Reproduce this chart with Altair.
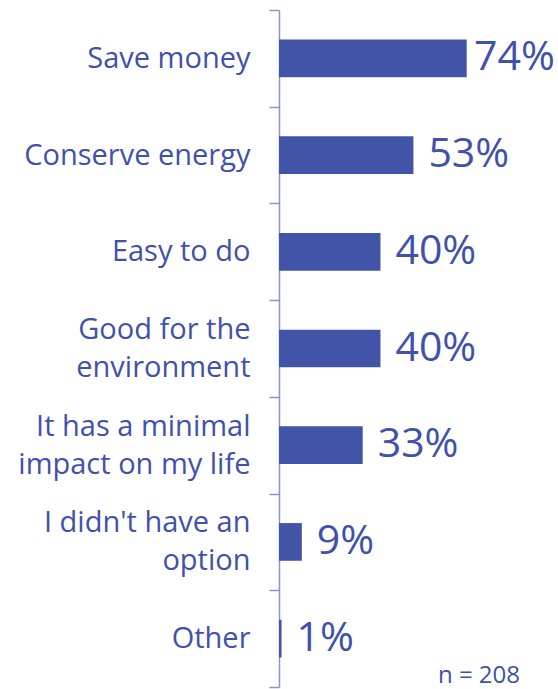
import altair as alt
import pandas as pd

categories = ["Save money", "Conserve energy", "Easy to do", "Good for the|environment",
              "It has a minimal|impact on my life", "I didn't have an|option", "Other"]
values = [74, 53, 40, 40, 33, 9, 1]
value_labels = ["74%", "53%", "40%", "40%", "33%", "9%", "1%"]
note = "n = 208"

df = pd.DataFrame({"cat": categories, "val": values, "lbl": value_labels})

BLUE = "#4154A8"
TEXT = "#3F51AA"
AXIS = "#8C93C8"
FONT = "Open Sans"

y = alt.Y("cat:N", sort=categories, title=None,
          scale=alt.Scale(paddingInner=0, paddingOuter=0),
          axis=alt.Axis(tickBand="extent", domainColor=AXIS, tickColor=AXIS,
                        domainWidth=1.5, tickWidth=1.5, tickSize=10,
                        labelPadding=19, labelFontSize=29, labelFont=FONT,
                        labelColor=TEXT, labelLimit=300, labelLineHeight=38,
                        labelOffset={"condition": {"test": "indexof(datum.label, '|') >= 0",
                                                   "value": -19}, "value": 0},
                        labelExpr="split(datum.label, '|')"))
xscale = alt.Scale(domain=[0, 110])
x = alt.X("val:Q", scale=xscale, axis=None)

bars = alt.Chart(df).mark_bar(color=BLUE, height=alt.RelativeBandSize(0.39)).encode(x=x, y=y)
# keep the longest label inside the chart edge
texts = alt.Chart(df).transform_calculate(lx="min(datum.val, 71)").mark_text(
    align="left", baseline="middle", dx=15, fontSize=41, font=FONT, color=TEXT
).encode(x=alt.X("lx:Q", scale=xscale, axis=None), y=y, text="lbl:N")
n_text = alt.Chart(pd.DataFrame({"t": [note]})).mark_text(
    align="right", baseline="alphabetic", fontSize=24, font=FONT, color=TEXT
).encode(x=alt.value(241), y=alt.value(673), text="t:N")

chart = alt.layer(bars, texts, n_text).properties(
    width=279, height=677,
    padding={"left": 279, "top": 10, "right": 0, "bottom": 2},
    autosize=alt.AutoSizeParams(type="none"),
).configure_view(stroke=None)

chart.save("out.html", embed_options={"renderer": "svg", "actions": False})
